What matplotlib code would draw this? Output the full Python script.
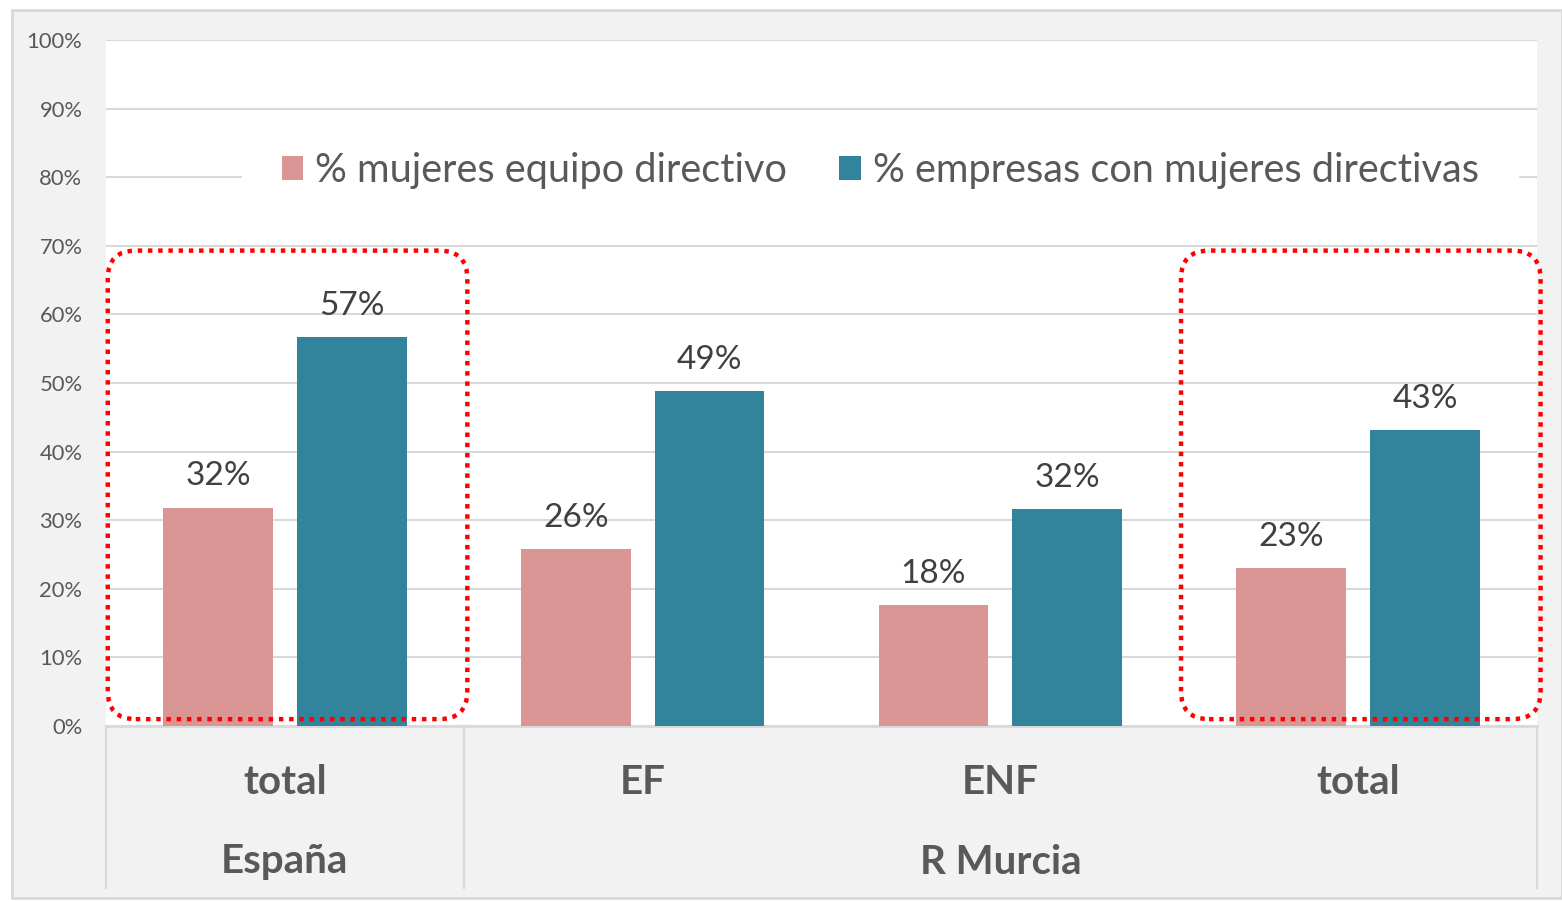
import matplotlib
matplotlib.use("Agg")
import matplotlib.pyplot as plt
from matplotlib.patches import FancyBboxPatch, Rectangle
from matplotlib.lines import Line2D
from matplotlib.transforms import IdentityTransform
import numpy as np

plt.rcParams["font.family"] = ["Lato", "DejaVu Sans"]

categories = ["total", "EF", "ENF", "total"]
regions = ["España", "R Murcia"]
region_spans = [(0, 0), (1, 3)]  # category index range per region
mujeres_equipo = [31.8, 25.8, 17.6, 23.0]
empresas_mujeres = [56.7, 48.8, 31.6, 43.1]
series_names = ["% mujeres equipo directivo", "% empresas con mujeres directivas"]
highlighted = [0, 3]

PINK = "#DA9694"
TEAL = "#31849B"
W, H = 1562, 902

fig = plt.figure(figsize=(W / 100, H / 100), dpi=100, facecolor="white")
# chart background
fig.patches.append(Rectangle((12 / W, 4 / H), (W - 12) / W, (H - 14) / H,
                             transform=fig.transFigure, facecolor="#F2F2F2",
                             edgecolor="#D9D9D9", linewidth=2, zorder=-5))

left, right, top, bottom = 106, 1537, 40, 726
ax = fig.add_axes([left / W, 1 - bottom / H, (right - left) / W, (bottom - top) / H])
ax.set_facecolor("white")

x = np.arange(len(categories))
bw, off = 0.307, 0.187
b1 = ax.bar(x - off, mujeres_equipo, bw, color=PINK, label=series_names[0], zorder=2)
b2 = ax.bar(x + off, empresas_mujeres, bw, color=TEAL, label=series_names[1], zorder=2)
for bars in (b1, b2):
    for r in bars:
        v = r.get_height()
        ax.text(r.get_x() + r.get_width() / 2, v + 2.4, f"{v:.0f}%", ha="center", va="bottom",
                fontsize=24, color="#404040", zorder=3)

ax.set_xlim(-0.5, len(categories) - 0.5)
ax.set_ylim(0, 100)
ax.set_yticks(range(0, 101, 10))
ax.set_yticklabels([f"{t}%" for t in range(0, 101, 10)], fontsize=15.8, color="#595959")
ax.tick_params(axis="y", length=0, pad=17)
ax.set_xticks([])
ax.grid(axis="y", color="#D9D9D9", linewidth=1.5, zorder=1)
for s in ax.spines.values():
    s.set_visible(False)
ax.axhline(0, color="#D9D9D9", linewidth=2, zorder=1, clip_on=False)

leg = ax.legend(loc="center", bbox_to_anchor=(0.541, 0.81), ncol=2, frameon=True,
                fontsize=28.6, handlelength=0.55, handleheight=0.55, handletextpad=0.3,
                columnspacing=1.3, borderpad=1.0, labelcolor="#595959", fancybox=False)
leg.get_frame().set_edgecolor("white")
leg.get_frame().set_facecolor("white")
leg.get_frame().set_alpha(1)
leg.set_zorder(4)

# category axis as a table below
ax_b = fig.transFigure
for cx, name in zip(x, categories):
    xf = ax.transData.transform((cx, 0))[0] / W
    fig.text(xf, 1 - 782 / H, name, ha="center", va="center", fontsize=29,
             fontweight="bold", color="#595959")
sep_idx = [-0.5] + [span[1] + 0.5 for span in region_spans]
for s in sep_idx:
    xf = ax.transData.transform((s, 0))[0] / W
    fig.lines.append(Line2D([xf, xf], [1 - 726 / H, 1 - 888 / H], transform=ax_b,
                            color="#D9D9D9", linewidth=1.5))
for (a, b), name in zip(region_spans, regions):
    xf = ax.transData.transform(((a + b) / 2, 0))[0] / W
    fig.text(xf, 1 - 862 / H, name, ha="center", va="center", fontsize=29,
             fontweight="bold", color="#595959")

# red dotted rounded boxes around highlighted groups
for i in highlighted:
    x0, y0 = ax.transData.transform((i - 0.495, 1))
    x1, y1 = ax.transData.transform((i + 0.51, 69.3))
    box = FancyBboxPatch((x0 + 28, y0 + 28), x1 - x0 - 56, y1 - y0 - 56,
                         boxstyle="round,pad=28", transform=IdentityTransform(),
                         fill=False, edgecolor="red", linewidth=3.2,
                         linestyle=(0, (1, 1.3)), zorder=5, clip_on=False)
    fig.patches.append(box)

fig.savefig("out.png", dpi=100, facecolor="white")
